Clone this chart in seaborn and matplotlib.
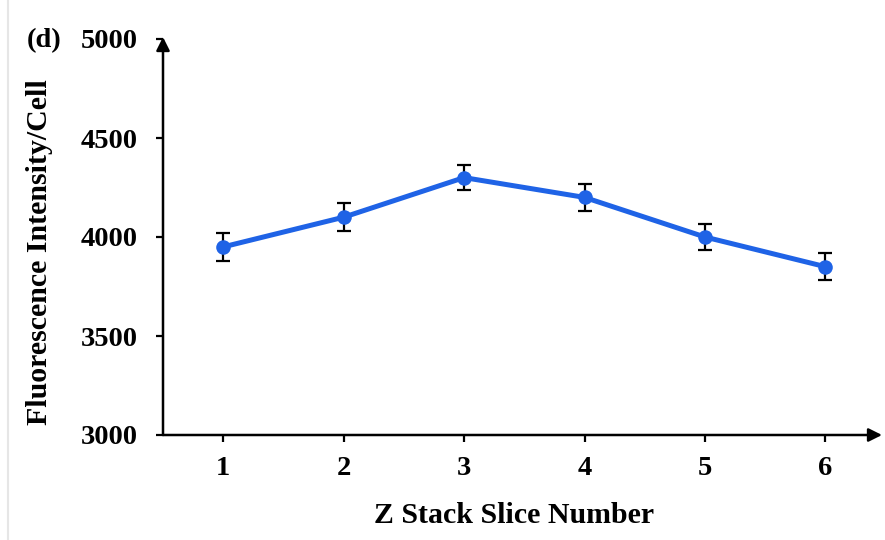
import matplotlib
matplotlib.use("Agg")
import matplotlib.pyplot as plt
import seaborn as sns
import pandas as pd
from matplotlib.lines import Line2D

sns.set_theme(style="white")
plt.rcParams["font.family"] = ["Liberation Serif", "DejaVu Serif"]
plt.rcParams["font.weight"] = "bold"
plt.rcParams["text.color"] = "black"

## DATA
slices = [1, 2, 3, 4, 5, 6]
intensity = [3950, 4100, 4300, 4200, 4000, 3850]
error = [70, 70, 65, 70, 68, 68]

df = pd.DataFrame({"slice": slices, "intensity": intensity, "err": error})

## PLOT
fig = plt.figure(figsize=(8.85, 5.4), dpi=100)
ax = fig.add_axes([163 / 885, 1 - 435 / 540, (882 - 163) / 885, (435 - 39) / 540])

blue = "#1f63e6"
ax.errorbar(df["slice"], df["intensity"], yerr=df["err"], fmt="none",
            ecolor="black", elinewidth=1.6, capsize=5, capthick=1.6, zorder=2)
sns.lineplot(data=df, x="slice", y="intensity", ax=ax, color=blue,
             linewidth=3.6, marker="o", markersize=10.5, markeredgewidth=0, zorder=3)

ax.set_xlim(0.5, 6.47)
ax.set_ylim(3000, 5000)
ax.set_xticks(slices)
ax.set_yticks([3000, 3500, 4000, 4500, 5000])

for s in ["top", "right", "left", "bottom"]:
    ax.spines[s].set_visible(False)

# axes with arrowheads
ax.annotate("", xy=(1.0, 0), xytext=(0, 0), xycoords="axes fraction",
            arrowprops=dict(arrowstyle="-|>", color="black", lw=1.8,
                            mutation_scale=20, shrinkA=0, shrinkB=0))
ax.annotate("", xy=(0, 1.005), xytext=(0, 0), xycoords="axes fraction",
            arrowprops=dict(arrowstyle="-|>", color="black", lw=1.8,
                            mutation_scale=20, shrinkA=0, shrinkB=0))

ax.tick_params(axis="both", which="both", direction="out", length=5, width=1.6,
               color="black", labelsize=20.5, labelcolor="black")
ax.tick_params(axis="y", left=True, pad=13)
ax.tick_params(axis="x", bottom=True, pad=10)
for lab in ax.get_xticklabels() + ax.get_yticklabels():
    lab.set_fontweight("bold")

ax.set_xlabel("Z Stack Slice Number", fontsize=21.5, fontweight="bold", color="black")
ax.set_ylabel("Fluorescence Intensity/Cell", fontsize=21.5, fontweight="bold", color="black")
ax.xaxis.set_label_coords(0.488, -0.170)
ax.yaxis.set_label_coords(-0.153, 0.462)
ax.grid(False)

fig.text(27 / 885, 1 - 41 / 540, "(d)", fontsize=20.5, fontweight="bold", va="center", ha="left", color="black")
fig.add_artist(Line2D([8 / 885, 8 / 885], [0, 1], color="#e6e6e6", lw=1.5))

fig.savefig("out.png", dpi=100)
